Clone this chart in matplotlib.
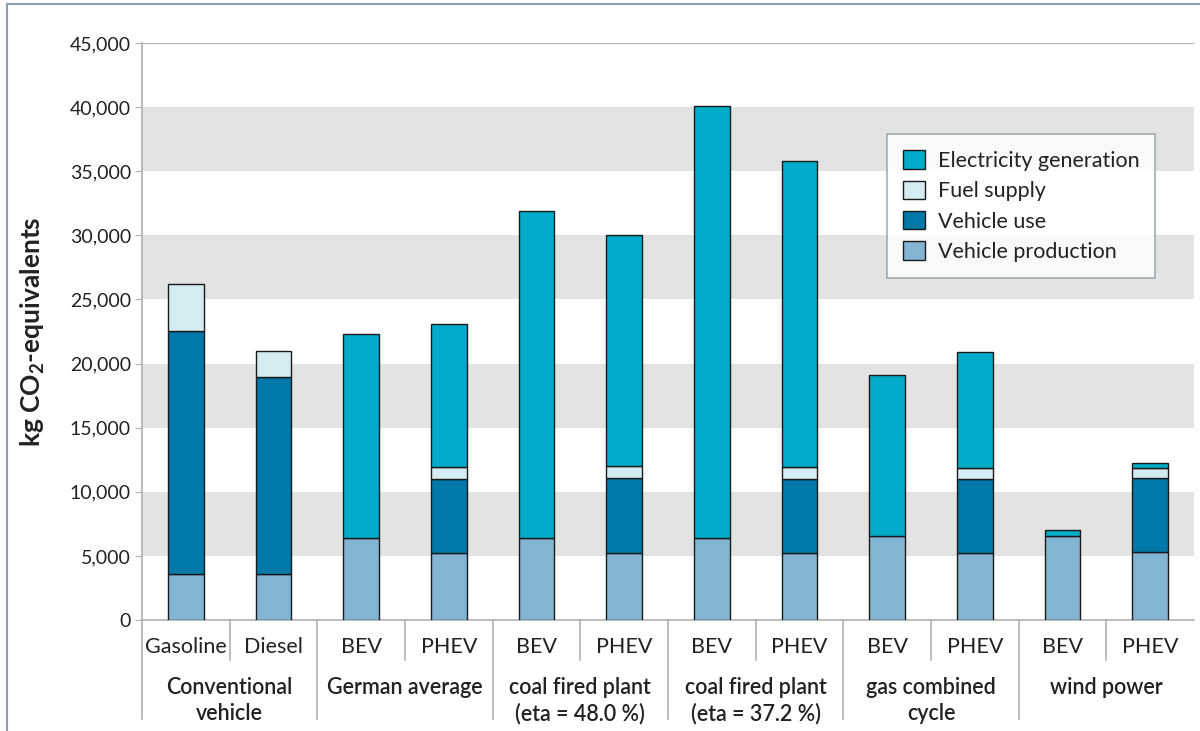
import matplotlib
matplotlib.use("Agg")
import matplotlib.pyplot as plt
import matplotlib.transforms as mtransforms
from matplotlib.lines import Line2D
from matplotlib.patches import Patch
from matplotlib.ticker import FuncFormatter
import numpy as np

plt.rcParams['font.family'] = ['Lato', 'DejaVu Sans']
plt.rcParams['mathtext.fontset'] = 'custom'
plt.rcParams['mathtext.rm'] = 'Lato:bold'
plt.rcParams['mathtext.bf'] = 'Lato:bold'
plt.rcParams['mathtext.it'] = 'Lato:bold'

# ---- data ----
bar_labels = ["Gasoline", "Diesel", "BEV", "PHEV", "BEV", "PHEV",
              "BEV", "PHEV", "BEV", "PHEV", "BEV", "PHEV"]
group_labels = ["Conventional\nvehicle", "German average",
                "coal fired plant\n(eta = 48.0 %)", "coal fired plant\n(eta = 37.2 %)",
                "gas combined\ncycle", "wind power"]
vehicle_production = [3570, 3570, 6400, 5200, 6430, 5210, 6400, 5200, 6540, 5200, 6560, 5290]
vehicle_use = [18980, 15390, 0, 5800, 0, 5860, 0, 5800, 0, 5800, 0, 5780]
fuel_supply = [3650, 2040, 0, 900, 0, 930, 0, 900, 0, 850, 0, 780]
electricity_generation = [0, 0, 15900, 11200, 25470, 18000, 33700, 23900, 12560, 9050, 490, 420]
yticks = [0, 5000, 10000, 15000, 20000, 25000, 30000, 35000, 40000, 45000]

series = [("Vehicle production", vehicle_production, "#84b4d4"),
          ("Vehicle use", vehicle_use, "#0079a8"),
          ("Fuel supply", fuel_supply, "#d4ecf1"),
          ("Electricity generation", electricity_generation, "#00acc9")]

W, H = 1200, 731
fig = plt.figure(figsize=(12, 7.31), dpi=100)
x0, x1, ytop, ybot = 142, 1194, 43, 620
ax = fig.add_axes([x0 / W, (H - ybot) / H, (x1 - x0) / W, (ybot - ytop) / H])

n = len(bar_labels)
x = np.arange(n)
ax.set_xlim(-0.5, n - 0.5)
ax.set_ylim(0, 45000)

# bands
for lo in [5000, 15000, 25000, 35000]:
    ax.axhspan(lo, lo + 5000, color="#e3e3e3", zorder=0, lw=0)
ax.axhline(45000, color="#b5b5b5", lw=1, zorder=1)

bottom = np.zeros(n)
handles = {}
for name, vals, col in series:
    v = np.array(vals, dtype=float)
    mask = v > 0
    ax.bar(x[mask], v[mask], bottom=bottom[mask], width=0.41, color=col,
           edgecolor="#1a1a1a", linewidth=1.0, zorder=3)
    bottom += v
    handles[name] = col

for s in ["top", "right"]:
    ax.spines[s].set_visible(False)
for s in ["left", "bottom"]:
    ax.spines[s].set_color("#b0b0b0")
    ax.spines[s].set_linewidth(1.2)

ax.set_yticks(yticks)
ax.yaxis.set_major_formatter(FuncFormatter(lambda v, p: f"{int(v):,}"))
ax.tick_params(axis="y", length=5, color="#b0b0b0", labelsize=14,
               labelcolor="#222222", pad=3)
ax.set_xticks([])

ax.set_ylabel(r"kg CO$_\mathrm{2}$-equivalents", fontsize=19, fontweight="bold",
              color="#222222")
ax.yaxis.label.set_verticalalignment("center")
ax.yaxis.set_label_coords(-(142 - 33) / (x1 - x0), 0.5)

# category labels below
trans = mtransforms.blended_transform_factory(ax.transData, ax.transAxes)
ppx = 1.0 / (ybot - ytop)
y_sub = -(660 - ybot) * ppx
y_grp = -(719 - ybot) * ppx
for i, lab in enumerate(bar_labels):
    ax.text(i, -(647 - ybot) * ppx, lab, transform=trans, ha="center", va="center",
            fontsize=15.5, color="#222222")
for b in [-0.5, 1.5, 3.5, 5.5, 7.5, 9.5]:
    ax.add_line(Line2D([b, b], [0, y_grp], transform=trans, color="#b0b0b0",
                       lw=1.2, clip_on=False))
for b in [0.5, 2.5, 4.5, 6.5, 8.5, 10.5]:
    ax.add_line(Line2D([b, b], [0, y_sub], transform=trans, color="#b0b0b0",
                       lw=1.2, clip_on=False))
for g, lab in enumerate(group_labels):
    cx = 2 * g + 0.5
    for k, line in enumerate(lab.split("\n")):
        ax.text(cx, -(687 + 27 * k - ybot) * ppx, line, transform=trans,
                ha="center", va="center", fontsize=15.5, fontweight="semibold",
                color="#222222")

# legend
order = ["Electricity generation", "Fuel supply", "Vehicle use", "Vehicle production"]
leg_handles = [Patch(facecolor=handles[k], edgecolor="#1a1a1a", lw=1.0) for k in order]
leg = fig.legend(leg_handles, order, loc="upper left",
                 bbox_to_anchor=(887 / W, 1 - 134 / H), fontsize=15.5,
                 frameon=True, fancybox=False, edgecolor="#8a9ba5",
                 handlelength=1.0, handleheight=0.95, handletextpad=0.6,
                 labelspacing=0.45, borderpad=0.75, borderaxespad=0)
leg.get_frame().set_linewidth(1.2)
for t in leg.get_texts():
    t.set_color("#222222")

# outer frame (top and left)
fig.add_artist(Line2D([7 / W, 1.0], [1 - 4 / H, 1 - 4 / H], transform=fig.transFigure,
                      color="#8fa0a8", lw=1.5))
fig.add_artist(Line2D([7 / W, 7 / W], [0, 1 - 4 / H], transform=fig.transFigure,
                      color="#8fa0a8", lw=1.5))

fig.savefig("out.png", dpi=100)
